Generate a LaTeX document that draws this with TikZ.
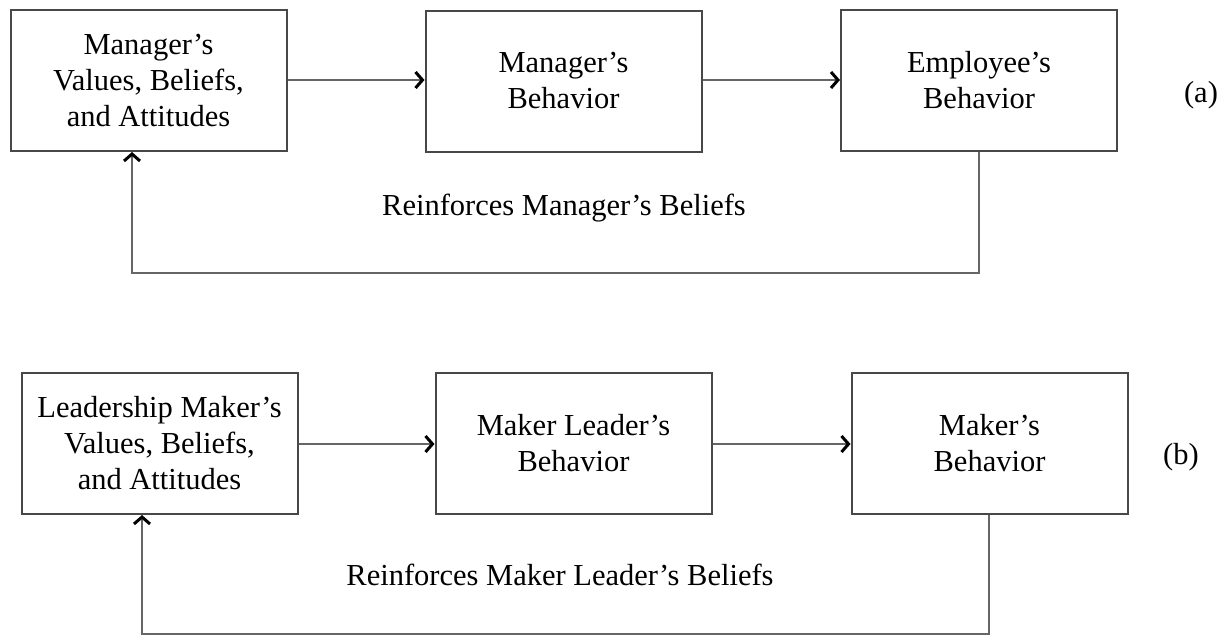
\documentclass[tikz,border=0pt]{standalone}
\usepackage{fontspec}
\setmainfont{Liberation Serif}
\usetikzlibrary{arrows.meta}
\definecolor{boxline}{HTML}{484848}
\definecolor{conline}{HTML}{666666}
\begin{document}
\begin{tikzpicture}[x=1pt,y=-1pt,
  stagebox/.style={draw=boxline,line width=2pt,rectangle,align=center,
    minimum width=276pt,minimum height=141pt,inner sep=0pt,
    font=\fontsize{30.5}{36}\selectfont},
  conn/.style={draw=conline,line width=2pt,
    -{Straight Barb[length=7pt,width=16pt,line width=3pt,color=black]}},
  txt/.style={font=\fontsize{30.5}{36}\selectfont,inner sep=0pt}]
\useasboundingbox (0,0) rectangle (1225,635);
% (a)
\node[stagebox] (a1) at (148.5,80.5) {Manager’s\\Values, Beliefs,\\and Attitudes};
\node[stagebox] (a2) at (563.5,81) {Manager’s\\Behavior};
\node[stagebox] (a3) at (979,80.5) {Employee’s\\Behavior};
\node[txt] (la) at (1201,95) {(a)};
\node[txt] (ra) at (564,208) {Reinforces Manager’s Beliefs};
\draw[conn] (a1.east |- 0,80) -- (a2.west |- 0,80);
\draw[conn] (a2.east |- 0,80) -- (a3.west |- 0,80);
\coordinate (fa1) at (979,273);
\coordinate (fa2) at (132,273);
\draw[conn] (a3.south) -- (fa1) -- (fa2) -- (fa2 |- a1.south);
% (b)
\node[stagebox] (b1) at (159.5,443.5) {Leadership Maker’s\\Values, Beliefs,\\and Attitudes};
\node[stagebox] (b2) at (573.5,443.5) {Maker Leader’s\\Behavior};
\node[stagebox] (b3) at (989.5,443.5) {Maker’s\\Behavior};
\node[txt] (lb) at (1181,457) {(b)};
\node[txt] (rb) at (560,575) {Reinforces Maker Leader’s Beliefs};
\draw[conn] (b1.east |- 0,444) -- (b2.west |- 0,444);
\draw[conn] (b2.east |- 0,444) -- (b3.west |- 0,444);
\coordinate (fb1) at (989,633.5);
\coordinate (fb2) at (142,633.5);
\draw[conn] (fb1 |- b3.south) -- (fb1) -- (fb2) -- (fb2 |- b1.south);
\end{tikzpicture}
\end{document}
